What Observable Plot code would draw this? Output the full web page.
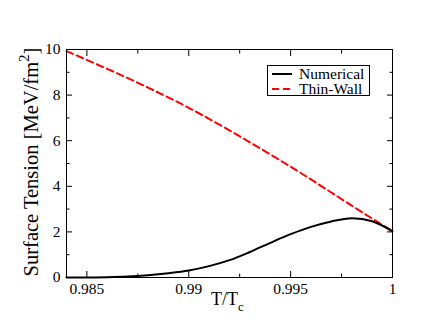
<!DOCTYPE html>
<html><head><meta charset="utf-8">
<script src="https://cdn.jsdelivr.net/npm/d3@7"></script>
<script src="https://cdn.jsdelivr.net/npm/@observablehq/plot@0.6"></script>
<style>body{margin:0;background:#fff}</style>
</head><body><div id="chart"></div>
<script>
const seriesNames = ["Numerical", "Thin-Wall"];
const seriesColors = ["#000000", "#ff0000"];
const numT = [0.984, 0.985, 0.986, 0.987, 0.988, 0.989, 0.990, 0.991, 0.992, 0.993, 0.994, 0.995, 0.996, 0.997, 0.998, 0.999, 1.0];
const numSigma = [0, 0.003, 0.012, 0.04, 0.1, 0.19, 0.31, 0.5, 0.76, 1.12, 1.52, 1.9, 2.22, 2.46, 2.6, 2.47, 2.03];
const thinT = [0.984, 0.986, 0.988, 0.990, 0.992, 0.994, 0.996, 0.998, 1.0];
const thinSigma = [9.93, 9.15, 8.33, 7.44, 6.45, 5.4, 4.3, 3.15, 2.03];
const xMajor = [0.985, 0.99, 0.995, 1];
const xMinor = [0.9875, 0.9925, 0.9975];
const xTickLabels = ["0.985", "0.99", "0.995", "1"];
const yMajor = [0, 2, 4, 6, 8, 10];
const yMinor = [1, 3, 5, 7, 9];
const yTickLabels = ["0", "2", "4", "6", "8", "10"];

const numerical = numT.map((t, i) => ({t, s: numSigma[i]}));
const thin = thinT.map((t, i) => ({t, s: thinSigma[i]}));

const font = "'Liberation Serif', 'DejaVu Serif', serif";
const tickStyle = {stroke: "#000", strokeWidth: 1, strokeOpacity: 1, label: null, tickFormat: () => ""};
const labelStyle = {tickSize: 0, label: null, fill: "#000", fontFamily: font, fontSize: 15.5};

const plot = Plot.plot({
  width: 423, height: 327,
  marginLeft: 66, marginRight: 31, marginTop: 49, marginBottom: 50,
  style: {fontFamily: font, fontSize: "15.5px", color: "#000", background: "#fff"},
  x: {domain: [0.984, 1], axis: null},
  y: {domain: [0, 10], axis: null},
  marks: [
    Plot.line(thin, {x: "t", y: "s", stroke: seriesColors[1], strokeWidth: 2, strokeDasharray: "7,4", curve: "natural"}),
    Plot.line(numerical, {x: "t", y: "s", stroke: seriesColors[0], strokeWidth: 2, curve: "catmull-rom"}),
    Plot.frame({stroke: "#000", strokeWidth: 1}),
    Plot.axisX(xMajor, {anchor: "bottom", tickSize: -6, ...tickStyle}),
    Plot.axisX(xMinor, {anchor: "bottom", tickSize: -3.5, ...tickStyle}),
    Plot.axisX(xMajor, {anchor: "top", tickSize: -6, ...tickStyle}),
    Plot.axisX(xMinor, {anchor: "top", tickSize: -3.5, ...tickStyle}),
    Plot.axisY(yMajor, {anchor: "left", tickSize: -6, ...tickStyle}),
    Plot.axisY(yMinor, {anchor: "left", tickSize: -3.5, ...tickStyle}),
    Plot.axisY(yMajor, {anchor: "right", tickSize: -6, ...tickStyle}),
    Plot.axisY(yMinor, {anchor: "right", tickSize: -3.5, ...tickStyle}),
    Plot.axisX(xMajor, {anchor: "bottom", tickPadding: 5, ...labelStyle,
      tickFormat: d => xTickLabels[xMajor.indexOf(d)]}),
    Plot.axisY(yMajor, {anchor: "left", tickPadding: 6, ...labelStyle,
      tickFormat: d => yTickLabels[yMajor.indexOf(d)]})
  ]
});
document.getElementById("chart").appendChild(plot);

const svg = d3.select(plot);
// y-axis title
const yt = svg.append("text")
  .attr("transform", "translate(38,162) rotate(-90)")
  .attr("text-anchor", "middle")
  .style("font-family", font).attr("font-size", 20.5).attr("fill", "#000");
yt.append("tspan").text("Surface Tension [MeV/fm");
yt.append("tspan").attr("dy", -9).attr("font-size", 15).text("2");
yt.append("tspan").attr("dy", 9).text("]");
// x-axis title
const xt = svg.append("text")
  .attr("x", 211).attr("y", 305).attr("text-anchor", "start")
  .style("font-family", font).attr("font-size", 18).attr("fill", "#000");
xt.append("tspan").text("T/T");
xt.append("tspan").attr("dy", 6).attr("font-size", 13).text("c");

// legend
const lg = svg.append("g");
lg.append("rect").attr("x", 267.5).attr("y", 65.5).attr("width", 102).attr("height", 30)
  .attr("fill", "#fff").attr("stroke", "#000").attr("stroke-width", 1);
seriesNames.forEach((name, i) => {
  const y = 74 + i * 15;
  lg.append("line").attr("x1", 272).attr("x2", 292).attr("y1", y).attr("y2", y)
    .attr("stroke", seriesColors[i]).attr("stroke-width", 2)
    .attr("stroke-dasharray", i === 1 ? "7,4" : null);
  lg.append("text").attr("x", 299).attr("y", y + 5).attr("text-anchor", "start")
    .style("font-family", font).attr("font-size", 15.5).attr("fill", "#000").text(name);
});
svg.selectAll("g[aria-label*='tick label'] text").style("font-family", font);
</script>
</body></html>
